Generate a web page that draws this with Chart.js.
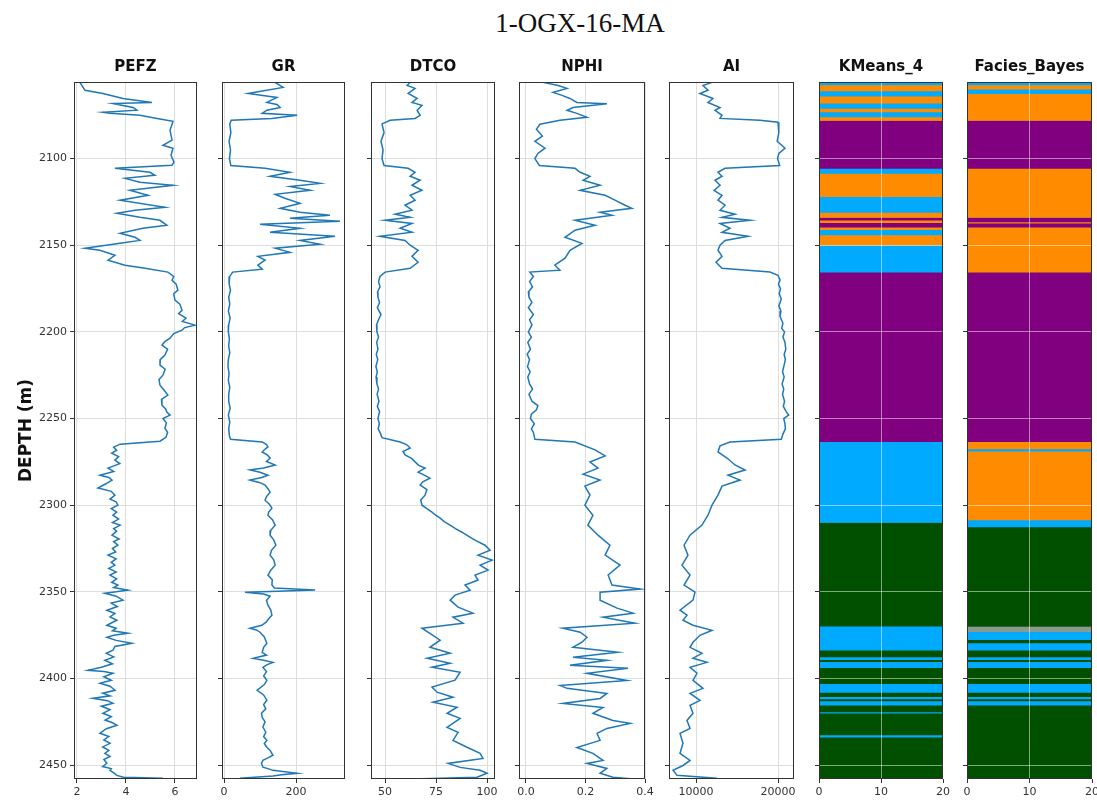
<!DOCTYPE html>
<html>
<head>
<meta charset="utf-8">
<script src="https://cdn.jsdelivr.net/npm/chart.js@4.4.0/dist/chart.umd.min.js"></script>
<style>
  body { margin: 0; background: #fff; }
  #wrap { position: relative; width: 1097px; height: 800px; overflow: hidden; }
  #title { position: absolute; left: 380px; width: 400px; top: 8px; text-align: center;
           font: 27px "Liberation Serif", serif; color: #111; }
  canvas { position: absolute; }
</style>
</head>
<body>
<div id="wrap">
  <div id="title">1-OGX-16-MA</div>
  <canvas id="c0"></canvas><canvas id="c1"></canvas><canvas id="c2"></canvas>
  <canvas id="c3"></canvas><canvas id="c4"></canvas><canvas id="c5"></canvas><canvas id="c6"></canvas>
</div>
<script>
// depth axis
const DEPTH_TICKS = [2100, 2150, 2200, 2250, 2300, 2350, 2400, 2450];
const DEPTH_MIN = 2055.8, DEPTH_MAX = 2458;

// well logs, [depth, value]
const PEFZ_LOG = [[2056,2.12],[2060.6,2.33],[2062.4,3.06],[2065.3,3.88],[2067.6,5.06],[2068.2,3.47],[2070.5,4.29],[2072.1,4.45],[2073.3,3.06],[2073.9,3.35],[2075,4.57],[2076.8,5.27],[2078.5,5.92],[2083.7,5.8],[2089.4,5.88],[2092.3,5.51],[2094,5.92],[2098.1,5.84],[2102.1,5.96],[2103.8,5.88],[2105.6,3.55],[2107.9,4.98],[2109.6,5.18],[2111.4,3.96],[2113.7,4.57],[2115.4,5.92],[2118.3,4.16],[2121.2,4.9],[2124,3.76],[2128.1,5.59],[2129.8,4.37],[2131.6,3.63],[2133.9,4.57],[2135.6,5.39],[2138.5,5.67],[2140.2,4.69],[2143.1,3.76],[2145.4,4.37],[2147.2,4.57],[2148.9,3.76],[2151.7,2.33],[2152.9,2.94],[2155.8,3.55],[2158.6,3.27],[2161.5,3.96],[2163.3,4.78],
  [2165.5,5.71],[2168,5.95],[2170.2,5.88],[2172.5,6.05],[2175.9,6.12],[2178,5.95],[2181.7,6.0],[2184,6.2],[2187.5,6.29],[2189.5,6.15],[2192.1,6.45],[2194,6.3],[2196.1,6.82],[2197.5,6.4],[2199,6.29],[2201,5.95],[2203.6,5.8],[2205.5,5.6],[2207.6,5.47],[2210,5.7],[2213.4,5.59],[2216,5.4],[2219.2,5.39],[2221.5,5.6],[2225,5.51],[2227.5,5.35],[2230.8,5.39],[2233.5,5.55],[2236.5,5.71],[2239,5.45],[2242.3,5.47],[2244.5,5.62],[2246.3,5.67],[2248,5.8],[2250,5.51],[2252.5,5.65],[2255.6,5.59],[2258,5.7],[2260.8,5.63],[2263.1,5.39],
  [2264.8,3.76],[2266.5,3.5],[2268.3,3.62],[2270,3.42],[2272,3.7],[2274,3.55],[2276,3.75],[2278.6,3.27],[2280.5,3.5],[2282.7,2.94],[2284,3.3],[2285.5,3.43],[2287.5,3.2],[2290.1,2.86],[2292,3.4],[2294.2,3.55],[2296.5,3.35],[2298,3.6],[2300,3.67],[2302,3.4],[2304,3.62],[2305.8,3.47],[2308,3.7],[2310,3.45],[2311.5,3.76],[2313.5,3.5],[2315,3.62],[2317.3,3.43],[2319.5,3.72],[2321,3.5],[2323.1,3.67],[2325,3.45],[2327,3.58],[2328.8,3.27],[2331,3.6],[2333,3.4],[2334.6,3.55],[2336.5,3.3],[2338.5,3.6],[2340.3,3.35],[2342.5,3.62],[2344.5,3.42],[2346.1,3.67],[2347.5,3.5],[2349,4.08],[2350,3.6],[2350.8,3.14],[2352.5,3.6],[2354.8,3.88],[2356.5,3.4],[2358.5,3.65],[2360.6,3.22],[2362.5,3.55],[2364.5,3.35],[2366.4,3.63],[2368,3.4],[2369.3,3.22],[2371,3.6],[2372.5,3.45],[2373.9,4.08],[2375,3.5],[2376.2,3.22],[2378,3.6],[2379.7,4.24],[2381.5,3.55],[2383.7,3.47],[2385.5,3.2],[2387.5,3.5],[2389.5,3.14],[2391.5,3.45],[2393.5,3.0],[2395.3,2.45],[2396,3.1],[2397,3.47],[2399,3.1],[2401,3.4],[2402.8,2.94],[2404.5,3.35],[2406.8,3.55],[2408.5,3.05],[2410,3.35],[2411.4,2.65],[2412.8,3.25],[2414.3,3.47],[2416,3.0],[2418,3.35],[2420.1,3.06],[2422,3.4],[2424,3.15],[2425.5,3.45],[2427,3.63],[2429,3.2],[2431.6,2.94],[2433.5,3.3],[2435.5,3.1],[2437.4,3.35],[2439.5,3.05],[2441.5,3.3],[2443.2,3.14],[2445,3.35],[2446.8,3.1],[2448.9,3.22],[2450.8,3.05],[2452,3.4],[2453,3.35],[2454.5,3.5],[2455.9,3.63],[2457,3.9],[2457.6,5.51]];
const GR_LOG = [[2056,142],[2058.9,164],[2062.4,67],[2064.7,147],[2067.6,119],[2068.8,147],[2070.5,156],[2072.1,119],[2073.9,106],[2075,203],[2076.8,133],[2077.9,20],[2080,16],[2085,19],[2090,14],[2095,18],[2100,15],[2104,19],[2105.6,114],[2107.9,183],[2110.2,128],[2112.5,211],[2114.3,267],[2116.1,183],[2118.3,239],[2120.6,142],[2122.9,169],[2125.8,211],[2128.7,156],[2131,211],[2132.7,294],[2134.4,183],[2136.2,322],[2137.9,100],[2140.2,211],[2142.5,128],[2144.8,308],[2147.2,211],[2149.4,267],[2151.7,142],[2154.1,183],[2156.4,94],[2158.6,114],[2161.5,94],[2163.8,106],
  [2165.5,24],[2168,16],[2172,14],[2176,18],[2180,13],[2184,16],[2188,12],[2192,17],[2196,13],[2200,12],[2204,15],[2208,13],[2212,16],[2216,12],[2220,11],[2224,14],[2228,12],[2232,16],[2236,13],[2240,13],[2244,17],[2248,12],[2252,16],[2256,13],[2260,15],[2262,18],
  [2263.5,106],[2265,118],[2266.4,122],[2268,112],[2269.3,106],[2271,120],[2272.8,128],[2274.8,118],[2276.8,142],[2278.5,110],[2279.7,72],[2281,100],[2282.7,122],[2284,105],[2285.5,72],[2287,100],[2288.4,114],[2290.5,122],[2292.5,128],[2295,118],[2297.1,114],[2299.5,126],[2301.7,133],[2304,124],[2305.8,122],[2308.5,135],[2311.5,142],[2314.5,130],[2317.3,128],[2320,138],[2323.1,144],[2326,132],[2328.8,128],[2331.5,138],[2334.6,142],[2337.5,130],[2340.3,122],[2343,134],[2346.1,133],[2347.8,140],[2349,253],[2349.6,150],[2350.2,58],[2351.2,110],[2352.5,128],[2355,118],[2357.7,122],[2360.5,130],[2363.5,133],[2365.5,124],[2367.5,117],[2369.3,105],[2371,72],[2372,90],[2373.3,100],[2376,112],[2379.7,119],[2382,110],[2384.9,106],[2386.5,118],[2388.4,81],[2389.5,110],[2390.7,136],[2392,120],[2393.6,108],[2396,118],[2398.5,110],[2401.1,119],[2403.5,112],[2406.8,92],[2409.5,110],[2412.6,119],[2415,110],[2417.5,116],[2420,104],[2422.4,106],[2425,114],[2428,108],[2431,116],[2433.5,110],[2435.6,119],[2437.5,112],[2439.7,119],[2441.5,128],[2444.3,136],[2445.8,122],[2447.2,108],[2449,104],[2451.2,108],[2452,122],[2453,136],[2454.7,203],[2455.5,160],[2456.3,136],[2457.5,44]];
const DTCO_LOG = [[2056,62.3],[2057.8,60.8],[2059.5,64.7],[2062.4,61.3],[2065.3,65.7],[2067.6,63.2],[2069.3,68.1],[2072.1,65.7],[2075,67.2],[2076.8,64.7],[2077.9,52.5],[2080,48.5],[2085,49.5],[2090,48],[2095,49],[2100,48.5],[2104,49.5],[2105.6,61.3],[2107.9,64.7],[2110.2,62.3],[2112.5,67.2],[2115.4,63.2],[2118.3,68.1],[2121.2,62.3],[2124,64.7],[2126.9,59.8],[2129.8,63.2],[2132.1,54.9],[2133.9,62.3],[2135.6,50],[2137.4,63.2],[2140.2,57.4],[2142.5,63.2],[2144.8,47.5],[2147.2,59.8],[2150,62.3],[2152.9,66.2],[2156.4,63.2],[2159.8,66.2],[2163.3,62.3],
  [2165.5,50],[2168,47.5],[2171,46.8],[2174,47.5],[2177,46.3],[2180,46.5],[2183,47.3],[2186,46.2],[2190,48],[2193,46.8],[2196,45.8],[2200,46],[2203,46.8],[2206,45.9],[2210,46.5],[2213,45.7],[2216,46.4],[2220,45.5],[2223,46.2],[2226,45.6],[2230,46],[2233,46.8],[2236,46.1],[2240,47],[2243,46.2],[2246,47.3],[2250,46.5],[2253,47.2],[2256,46.6],[2258,47.5],[2261,48.5],
  [2263.5,57.4],[2265,60.5],[2267,62.3],[2269,58.8],[2271,59.8],[2273,63],[2275,64.7],[2277,66.5],[2278.6,69.6],[2280.9,66.2],[2282.5,69],[2284.4,72],[2286.5,68.5],[2288.4,67.2],[2291,70.5],[2294.2,69.6],[2297,67.5],[2300,68.1],[2302,70.5],[2304,73],[2305.5,74.5],[2307.5,77],[2309.5,79],[2311.5,81.9],[2313.5,84.5],[2315.6,87.7],[2318,91],[2320.2,94.1],[2323.1,99],[2326,101.5],[2328.8,95.6],[2331.7,102.5],[2334.6,96.6],[2337.5,100.5],[2340.3,94.1],[2343.2,95.6],[2346.1,89.2],[2349,91.7],[2351.9,84.3],[2354.8,81.9],[2358.8,85.8],[2362.3,93.1],[2364.6,83.3],[2368.1,88.2],[2371,68.1],[2373.9,72],[2377.9,77],[2382,72],[2385.4,81.9],[2388.3,70.6],[2391.2,81.9],[2393.5,73],[2396.4,86.8],[2401,84.3],[2405,73],[2407.9,75.5],[2410.8,83.3],[2413.7,73.5],[2416.6,85.3],[2420.1,80.4],[2423,86.8],[2428.2,80.4],[2431.1,85.8],[2435.7,83.3],[2439.7,90.2],[2443.2,96.6],[2446.1,98],[2449,80.9],[2451.3,86.8],[2453,96.6],[2454.7,100],[2457,95.1],[2458,63.2]];
const NPHI_LOG = [[2056,0.057],[2057.8,0.108],[2059.5,0.138],[2061.8,0.091],[2063.5,0.121],[2065.3,0.148],[2067.6,0.171],[2068.4,0.272],[2070.5,0.158],[2072.1,0.138],[2073.9,0.171],[2076.2,0.205],[2077.9,0.114],[2080.2,0.047],[2083,0.035],[2087,0.055],[2090,0.03],[2094,0.064],[2097,0.04],[2100,0.03],[2104,0.045],[2105.6,0.165],[2107.9,0.182],[2110.2,0.215],[2112.5,0.192],[2115.4,0.249],[2118.3,0.182],[2121.2,0.266],[2124,0.299],[2126.9,0.333],[2128.7,0.356],[2131,0.249],[2132.7,0.289],[2135.6,0.165],[2138.5,0.232],[2141.3,0.165],[2145.4,0.131],[2148.9,0.188],[2152.9,0.148],[2157.5,0.131],[2161.5,0.097],[2164.4,0.114],
  [2165.5,0.013],[2168,0.025],[2171,0.012],[2174,0.022],[2177,0.008],[2180,0.01],[2183,0.02],[2186,0.008],[2190,0.025],[2193,0.012],[2196,0.02],[2200,0.008],[2203,0.018],[2206,0.006],[2210,0.015],[2213,0.004],[2216,0.012],[2220,0.005],[2223,0.014],[2226,0.006],[2230,0.012],[2233,0.022],[2236,0.01],[2240,0.02],[2242.5,0.04],[2245,0.035],[2247.5,0.018],[2250,0.015],[2253,0.028],[2256,0.018],[2258,0.025],[2262,0.03],
  [2263.5,0.165],[2268.1,0.232],[2271.6,0.266],[2275.1,0.215],[2278.6,0.242],[2282.1,0.192],[2285.5,0.249],[2289,0.198],[2294.2,0.215],[2300,0.198],[2305.8,0.225],[2311.5,0.208],[2317.3,0.242],[2323.1,0.282],[2328.8,0.266],[2334.6,0.316],[2340.3,0.276],[2346.1,0.289],[2348.4,0.383],[2350.2,0.249],[2354.8,0.249],[2359.4,0.306],[2362.3,0.36],[2364.6,0.259],[2368.1,0.366],[2371,0.124],[2373.3,0.182],[2376.2,0.205],[2379.1,0.188],[2382,0.158],[2384.9,0.309],[2387.8,0.158],[2389.5,0.272],[2392.4,0.148],[2394.1,0.343],[2397,0.205],[2401.1,0.339],[2404,0.114],[2405.7,0.138],[2408.6,0.272],[2411.5,0.249],[2414.4,0.124],[2416.7,0.259],[2420.1,0.225],[2424.2,0.292],[2425.9,0.35],[2428.8,0.272],[2431.7,0.239],[2435.7,0.249],[2439.8,0.171],[2443.2,0.225],[2447.3,0.259],[2449,0.205],[2451.9,0.272],[2454.7,0.249],[2457,0.292],[2458,0.36]];
const AI_LOG = [[2056,11950],[2057.8,10850],[2060.6,11460],[2062.4,10490],[2065.3,12070],[2067.6,11460],[2070.5,12930],[2072.1,12320],[2075,13170],[2076.8,12930],[2077.9,17800],[2079,20000],[2085,20100],[2090,19900],[2094,20850],[2097,20100],[2100,19950],[2104,20200],[2105.6,13540],[2107.9,12680],[2110.2,13170],[2112.5,12320],[2115.4,12930],[2118.3,12200],[2121.2,13170],[2124,12680],[2126.9,13540],[2129.8,12930],[2132.1,14760],[2133.9,13170],[2135.6,16590],[2137.4,12930],[2140.2,14150],[2142.5,13170],[2144.8,16340],[2147.2,13540],[2150,12930],[2152.9,12680],[2156.4,13170],[2159.8,12440],[2163.3,13170],
  [2165.5,19020],[2167.3,20000],[2170,20250],[2172.5,20050],[2175,20300],[2178,20150],[2181,20400],[2185,20100],[2188,20350],[2191,20250],[2195,20600],[2198,20450],[2200,20800],[2203,20600],[2206,20850],[2210,20950],[2213,20750],[2216,20900],[2220,20700],[2223,20550],[2226,20750],[2230,20500],[2233,20700],[2236,20550],[2240,20800],[2243,20650],[2246,21000],[2248,21300],[2250,20700],[2253,20850],[2256,20900],[2259,20600],[2262,20400],
  [2263.5,14150],[2265.8,12930],[2269.3,12680],[2272.8,13780],[2276.8,14760],[2279.7,15980],[2282.7,13900],[2285.5,15370],[2289,13170],[2294.2,12680],[2300,11950],[2305.8,11460],[2311.5,10730],[2317.3,9270],[2323.1,8540],[2328.8,9020],[2334.6,8290],[2340.3,9270],[2346.1,8540],[2350.2,9880],[2354.8,9630],[2360.6,8050],[2363.5,8900],[2366.4,8410],[2369.3,9630],[2372.2,11950],[2375.1,10490],[2379.1,9630],[2382,9270],[2385.5,10730],[2388.3,9630],[2390.7,11340],[2393.6,9270],[2397,10120],[2401.1,9630],[2405.7,10850],[2408.6,9270],[2412.6,10490],[2415.5,9270],[2420.1,9630],[2424.2,8900],[2428.8,9270],[2431.7,8050],[2437.4,8410],[2443.2,8050],[2447.3,9270],[2450.2,8410],[2453,7200],[2455.9,7680],[2457.6,12560]];

// facies columns: boundaries (depth) and class of each interval
const KMEANS_BOUNDS = [2055.8,2057.5,2061,2064,2068,2071,2073,2076,2078,2105.6,2108.5,2122,2131,2134,2135.5,2137,2139.5,2141,2144,2150,2165.5,2263.4,2310,2369.8,2383.7,2387.5,2389.2,2390.3,2393.8,2403,2408,2410.5,2411.8,2413,2415.4,2419.3,2420,2432.6,2433.8,2458];
const KMEANS_CLASS = ['B','O','B','O','B','O','B','O','P','B','O','B','O','P','O','P','O','B','O','B','P','B','G','B','G','B','G','B','G','B','G','B','G','B','G','B','G','B','G'];
const BAYES_BOUNDS = [2055.8,2057.5,2060,2062.5,2078,2105.6,2134,2136.5,2137.3,2139.5,2165.5,2263.4,2267.5,2268.8,2308.5,2312.5,2370,2373,2377.6,2379.5,2383.7,2387.5,2389.2,2390.3,2393.8,2403,2408,2410.5,2411.8,2413,2415.4,2457.2,2458];
const BAYES_CLASS = ['B','O','B','O','P','O','P','O','P','O','P','O','B','O','B','G','X','B','G','B','G','B','G','B','G','B','G','B','G','B','G','O'];
const FACIES_COLORS = { O: '#ff8c00', P: '#800080', B: '#00aaff', G: '#005000', X: '#8a9a90' };

// layout of the plot boxes (px)
const TOP = 82, BOTTOM = 779, TITLE_H = 24, XAXIS_H = 30, PAD_R = 12;
const FONT = "DejaVu Sans";

const framePlugin = {
  id: 'frame',
  afterDraw(chart) {
    const { ctx, chartArea: a } = chart;
    ctx.save();
    ctx.strokeStyle = '#333';
    ctx.lineWidth = 1;
    ctx.strokeRect(Math.round(a.left) + 0.5, Math.round(a.top) + 0.5,
                   Math.round(a.right - a.left) - 1, Math.round(a.bottom - a.top) - 1);
    ctx.restore();
  }
};

function placeCanvas(id, left, right, yW) {
  const c = document.getElementById(id);
  c.width = yW + (right - left) + PAD_R;
  c.height = TITLE_H + (BOTTOM - TOP) + XAXIS_H;
  c.style.left = (left - yW) + 'px';
  c.style.top = (TOP - TITLE_H) + 'px';
  return c;
}

function depthAxis(yW, first, gridColor, z) {
  return {
    type: 'linear', reverse: true, min: DEPTH_MIN, max: DEPTH_MAX,
    offset: false,
    afterBuildTicks: s => { s.ticks = DEPTH_TICKS.map(v => ({ value: v })); },
    afterFit: s => { s.width = yW; },
    grid: { color: gridColor, tickLength: 4, tickColor: '#333', offset: false, z: z },
    border: { display: false },
    ticks: { display: first, font: { family: FONT, size: 11 }, color: '#333', padding: 3,
             callback: v => String(v) },
    title: {
      display: first, text: 'DEPTH (m)', color: '#111',
      font: { family: FONT, size: 17, weight: 'bold' }, padding: { top: 16, bottom: 0 }
    }
  };
}

function xAxis(min, max, ticks, fmt, gridColor, z) {
  return {
    type: 'linear', position: 'bottom', min: min, max: max,
    offset: false,
    afterBuildTicks: s => { s.ticks = ticks.map(v => ({ value: v })); },
    afterFit: s => { s.height = XAXIS_H; },
    grid: { color: gridColor, tickLength: 4, tickColor: '#333', offset: false, z: z },
    border: { display: false },
    ticks: { font: { family: FONT, size: 11 }, color: '#333', padding: 3,
             autoSkip: false, maxRotation: 0, callback: v => fmt(v) }
  };
}

function titleOpts(text) {
  return { display: true, text: text, fullSize: false, color: '#111',
           font: { family: FONT, size: 15, weight: 'bold' }, padding: { top: 0, bottom: 6 } };
}

function logTrack(id, name, log, left, right, xMin, xMax, ticks, fmt, first) {
  const yW = first ? 74 : 10;
  const c = placeCanvas(id, left, right, yW);
  new Chart(c, {
    type: 'scatter',
    data: {
      datasets: [{
        data: log.map(p => ({ x: p[1], y: p[0] })),
        showLine: true,
        borderColor: '#1f77b4',
        borderWidth: 1.5,
        pointRadius: 0,
        tension: 0
      }]
    },
    options: {
      responsive: false,
      animation: false,
      layout: { padding: { left: 0, right: PAD_R, top: 0, bottom: 0 } },
      plugins: { legend: { display: false }, tooltip: { enabled: false }, title: titleOpts(name) },
      scales: {
        x: xAxis(xMin, xMax, ticks, fmt, '#dedede', 0),
        y: depthAxis(yW, first, '#dedede', 0)
      }
    },
    plugins: [framePlugin]
  });
}

function faciesTrack(id, name, bounds, classes, left, right) {
  const yW = 10;
  const c = placeCanvas(id, left, right, yW);
  const datasets = classes.map((k, i) => ({
    data: [[bounds[i], bounds[i + 1]]],
    backgroundColor: FACIES_COLORS[k],
    borderWidth: 0,
    grouped: false,
    barPercentage: 1,
    categoryPercentage: 1,
    xAxisID: 'xc',
    yAxisID: 'y'
  }));
  new Chart(c, {
    type: 'bar',
    data: { labels: [''], datasets: datasets },
    options: {
      responsive: false,
      animation: false,
      layout: { padding: { left: 0, right: PAD_R, top: 0, bottom: 0 } },
      plugins: { legend: { display: false }, tooltip: { enabled: false }, title: titleOpts(name) },
      scales: {
        xc: { type: 'category', display: false, offset: true },
        xv: xAxis(0, 20, [0, 10, 20], v => String(v), 'rgba(255,255,255,0.5)', 1),
        y: depthAxis(yW, false, 'rgba(255,255,255,0.5)', 1)
      }
    },
    plugins: [framePlugin]
  });
}

const plain = v => String(v);
logTrack('c0', 'PEFZ', PEFZ_LOG, 74, 197, 1.88, 6.9, [2, 4, 6], plain, true);
logTrack('c1', 'GR', GR_LOG, 222, 345, -5.6, 336, [0, 200], plain, false);
logTrack('c2', 'DTCO', DTCO_LOG, 371, 495, 43.1, 103.9, [50, 75, 100], plain, false);
logTrack('c3', 'NPHI', NPHI_LOG, 519, 645, -0.0235, 0.4, [0, 0.2, 0.4], v => v.toFixed(1), false);
logTrack('c4', 'AI', AI_LOG, 669, 794, 6707, 21951, [10000, 20000], plain, false);
faciesTrack('c5', 'KMeans_4', KMEANS_BOUNDS, KMEANS_CLASS, 819, 943);
faciesTrack('c6', 'Facies_Bayes', BAYES_BOUNDS, BAYES_CLASS, 967, 1092);
</script>
</body>
</html>
